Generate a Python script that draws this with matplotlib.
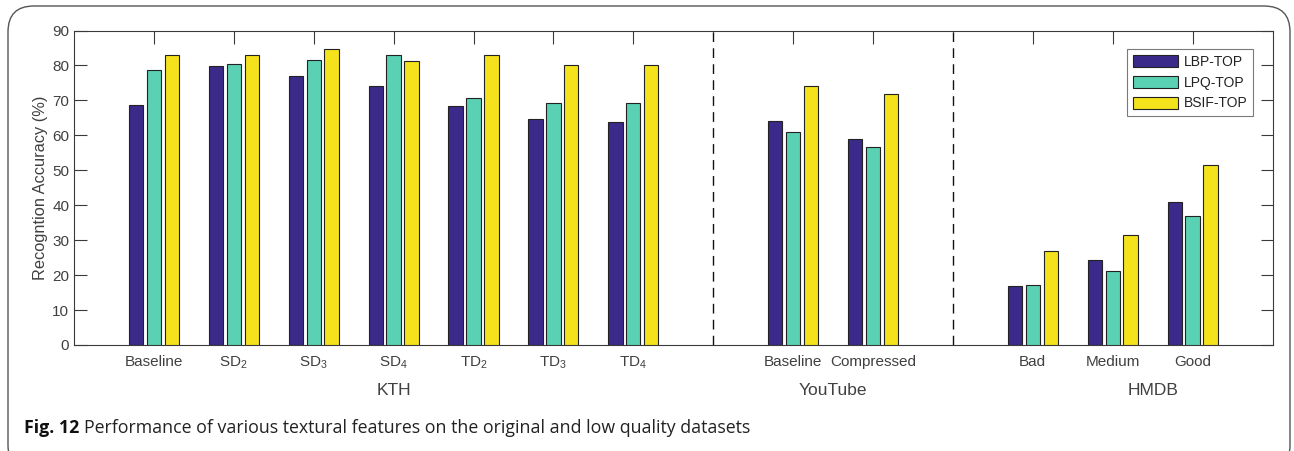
import numpy as np
import matplotlib.pyplot as plt
from matplotlib.patches import FancyBboxPatch
from matplotlib.transforms import blended_transform_factory

plt.rcParams['font.family'] = ['Liberation Sans', 'DejaVu Sans']
plt.rcParams['mathtext.fontset'] = 'custom'
plt.rcParams['mathtext.rm'] = 'Liberation Sans'
plt.rcParams['mathtext.it'] = 'Liberation Sans:italic'

# bar groups, with empty slots between datasets
categories = ['Baseline', 'SD$_2$', 'SD$_3$', 'SD$_4$', 'TD$_2$', 'TD$_3$', 'TD$_4$',
              'Baseline', 'Compressed', 'Bad', 'Medium', 'Good']
positions = [1, 2, 3, 4, 5, 6, 7, 9, 10, 12, 13, 14]
separators = [8, 11]

datasets = ['KTH', 'YouTube', 'HMDB']
dataset_centers = [4, 9.5, 13.5]

lbp_top = [68.8, 79.7, 77.1, 74.0, 68.5, 64.8, 63.7, 64.0, 58.9, 17.0, 24.2, 40.9]
lpq_top = [78.6, 80.3, 81.7, 83.1, 70.8, 69.2, 69.2, 60.9, 56.6, 17.2, 21.3, 36.9]
bsif_top = [83.1, 83.1, 84.6, 81.3, 83.1, 80.0, 80.0, 74.2, 71.8, 26.9, 31.6, 51.6]

series = {'LBP-TOP': lbp_top, 'LPQ-TOP': lpq_top, 'BSIF-TOP': bsif_top}
colors = ['#3b2a8a', '#5bd1b3', '#f4e21c']

text_color = '#404040'
axis_color = '#3a3a3a'

fig = plt.figure(figsize=(12.94, 4.51), dpi=100)
ax = fig.add_axes([74 / 1294, 106 / 451, 1198.5 / 1294, 314.5 / 451])

x = np.array(positions, dtype=float)
offset = 0.224
width = 0.18
for i, (name, vals) in enumerate(series.items()):
    ax.bar(x + (i - 1) * offset, vals, width, color=colors[i],
           edgecolor='#222222', linewidth=0.8, label=name, zorder=3)

for s in separators:
    ax.axvline(s, color='#111111', linewidth=1.0, linestyle=(0, (7, 4.5)), zorder=2)

ax.set_xlim(0, 15)
ax.set_ylim(0, 90)
ax.set_yticks(np.arange(0, 91, 10))
ax.set_xticks(positions)
ax.set_xticklabels(categories)
ax.tick_params(direction='in', length=9, width=0.8, colors=axis_color,
               labelcolor=text_color, labelsize=11, top=True, right=True)
ax.tick_params(axis='x', pad=7)
for sp in ax.spines.values():
    sp.set_color(axis_color)
    sp.set_linewidth(0.8)

ax.set_ylabel('Recogntion Accuracy (%)', fontsize=11.8, color=text_color, labelpad=3)

trans = blended_transform_factory(ax.transData, ax.transAxes)
for name, cx in zip(datasets, dataset_centers):
    ax.text(cx, -0.146, name, transform=trans, ha='center', va='center',
            fontsize=12.5, color=text_color)

leg = ax.legend(loc='upper right', bbox_to_anchor=(0.984, 0.941), borderaxespad=0,
                fancybox=False, framealpha=1, edgecolor='#7a7a7a', fontsize=10,
                handlelength=3.3, handleheight=0.95, labelspacing=0.5,
                handletextpad=0.4, borderpad=0.4)
leg.get_frame().set_linewidth(0.8)
for t in leg.get_texts():
    t.set_color('#222222')

# rounded frame around the figure and caption
frame = FancyBboxPatch((8 / 1294, -20 / 451), 1282 / 1294, 465 / 451,
                       boxstyle='round,pad=0,rounding_size=0.02',
                       transform=fig.transFigure, fill=False,
                       edgecolor='#555555', linewidth=1.0, clip_on=False,
                       mutation_aspect=1294 / 451)
fig.patches.append(frame)

fig.text(24 / 1294, 1 - 428 / 451, 'Fig. 12', fontsize=12.8, fontweight='bold',
         family=['Open Sans', 'DejaVu Sans'], va='center', ha='left', color='#111111')
fig.text(84 / 1294, 1 - 428 / 451,
         'Performance of various textural features on the original and low quality datasets',
         fontsize=12.8, family=['Open Sans', 'DejaVu Sans'], va='center', ha='left',
         color='#222222')

fig.savefig('out.png', dpi=100)
